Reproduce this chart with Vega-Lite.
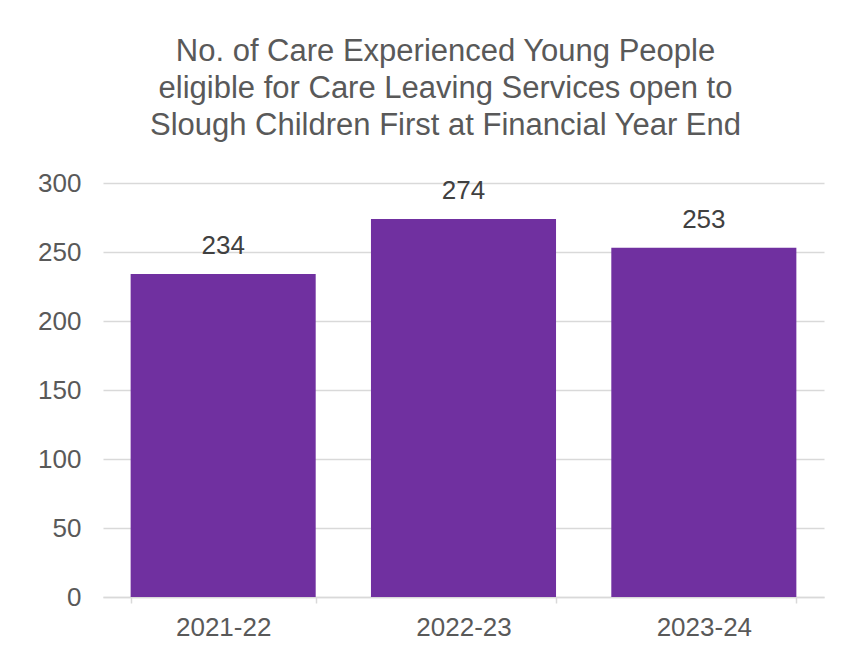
{
  "$schema": "https://vega.github.io/schema/vega-lite/v6.json",
  "autosize": {"type": "none"},
  "padding": {"left": 103, "top": 183, "right": 29, "bottom": 61},
  "width": 721,
  "height": 414,
  "background": "white",
  "title": {
    "text": ["No. of Care Experienced Young People", "eligible for Care Leaving Services open to", "Slough Children First at Financial Year End"],
    "font": "Liberation Sans",
    "fontSize": 31,
    "fontWeight": "normal",
    "color": "#595959",
    "lineHeight": 37,
    "anchor": "middle",
    "dx": -18,
    "offset": 28
  },
  "data": {
    "values": [
      {"year": "2021-22", "count": 234},
      {"year": "2022-23", "count": 274},
      {"year": "2023-24", "count": 253}
    ]
  },
  "encoding": {
    "x": {
      "field": "year",
      "type": "nominal",
      "sort": null,
      "title": null,
      "scale": {"paddingInner": 0.23, "paddingOuter": 0.115},
      "axis": {
        "labelAngle": 0,
        "labelFont": "Liberation Sans",
        "labelFontSize": 26,
        "labelColor": "#595959",
        "labelPadding": 11,
        "domainColor": "#d9d9d9",
        "domainWidth": 1.5,
        "tickColor": "#d9d9d9",
        "tickWidth": 1.5,
        "tickSize": 6,
        "tickBand": "extent",
        "grid": false
      }
    },
    "y": {
      "field": "count",
      "type": "quantitative",
      "title": null,
      "scale": {"domain": [0, 300], "nice": false},
      "axis": {
        "values": [0, 50, 100, 150, 200, 250, 300],
        "labelFont": "Liberation Sans",
        "labelFontSize": 26,
        "labelColor": "#595959",
        "labelPadding": 22,
        "domain": false,
        "ticks": false,
        "gridColor": "#d9d9d9",
        "gridWidth": 1.5
      }
    }
  },
  "layer": [
    {"mark": {"type": "bar", "color": "#7030A0"}},
    {
      "mark": {"type": "text", "baseline": "alphabetic", "dy": -20, "font": "Liberation Sans", "fontSize": 26, "color": "#404040"},
      "encoding": {"text": {"field": "count", "type": "quantitative"}}
    }
  ],
  "config": {"view": {"stroke": null}}
}
